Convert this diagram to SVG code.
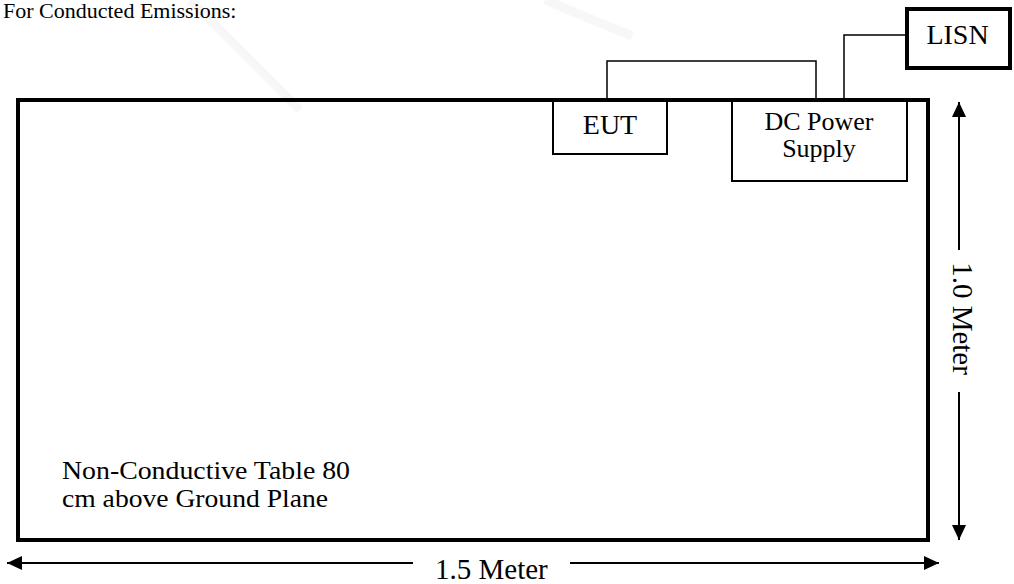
<svg xmlns="http://www.w3.org/2000/svg" width="1014" height="584" viewBox="0 0 1014 584">
<style>
text{font-family:"Liberation Serif","Times New Roman",serif;fill:#000}
.thick{fill:none;stroke:#000;stroke-width:4}
.box{fill:#fff;stroke:#000;stroke-width:2}
.wire{fill:none;stroke:#000;stroke-width:1.5}
.dim{fill:none;stroke:#000;stroke-width:2}
.wm{fill:none;stroke:#f7f7f7;stroke-width:9}
</style>
<defs>
<marker id="ah" viewBox="0 0 15 14" refX="15" refY="7" markerWidth="15" markerHeight="14" markerUnits="userSpaceOnUse" orient="auto-start-reverse">
<path d="M0,0 L15,7 L0,14 z" fill="#000"/>
</marker>
</defs>
<rect width="1014" height="584" fill="#fff"/>
<path class="wm" d="M190,0 Q245,55 300,110"/>
<path class="wm" d="M545,0 L632,36"/>
<text x="3" y="18" font-size="22">For Conducted Emissions:</text>
<g id="table">
<rect class="thick" x="18" y="100" width="910" height="440"/>
<text x="62" y="479" font-size="25" textLength="288" lengthAdjust="spacingAndGlyphs">Non-Conductive Table 80</text>
<text x="62" y="507" font-size="25" textLength="266" lengthAdjust="spacingAndGlyphs">cm above Ground Plane</text>
</g>
<g id="connectors">
<polyline class="wire" points="607,101 607,61 816,61 816,101"/>
<polyline class="wire" points="844,101 844,35 907,35"/>
</g>
<g id="eut">
<rect class="box" x="553" y="101" width="114" height="53"/>
<text x="610" y="134" font-size="28" text-anchor="middle">EUT</text>
</g>
<g id="dcps">
<rect class="box" x="732" y="101" width="175" height="80"/>
<text x="819" y="130" font-size="26" text-anchor="middle">DC Power</text>
<text x="819" y="157" font-size="26" text-anchor="middle">Supply</text>
</g>
<g id="lisn">
<rect class="thick" x="907" y="9" width="103" height="59"/>
<text x="957.5" y="44" font-size="28" text-anchor="middle">LISN</text>
</g>
<g id="dims">
<line class="dim" x1="959" y1="250" x2="959" y2="102" marker-end="url(#ah)"/>
<line class="dim" x1="959" y1="392" x2="959" y2="540" marker-end="url(#ah)"/>
<text transform="translate(953,318.5) rotate(90)" font-size="29" text-anchor="middle">1.0 Meter</text>
<line class="dim" x1="413" y1="563" x2="7" y2="563" marker-end="url(#ah)"/>
<line class="dim" x1="570" y1="563" x2="939" y2="563" marker-end="url(#ah)"/>
<text x="435" y="579" font-size="29">1.5 Meter</text>
</g>
</svg>
